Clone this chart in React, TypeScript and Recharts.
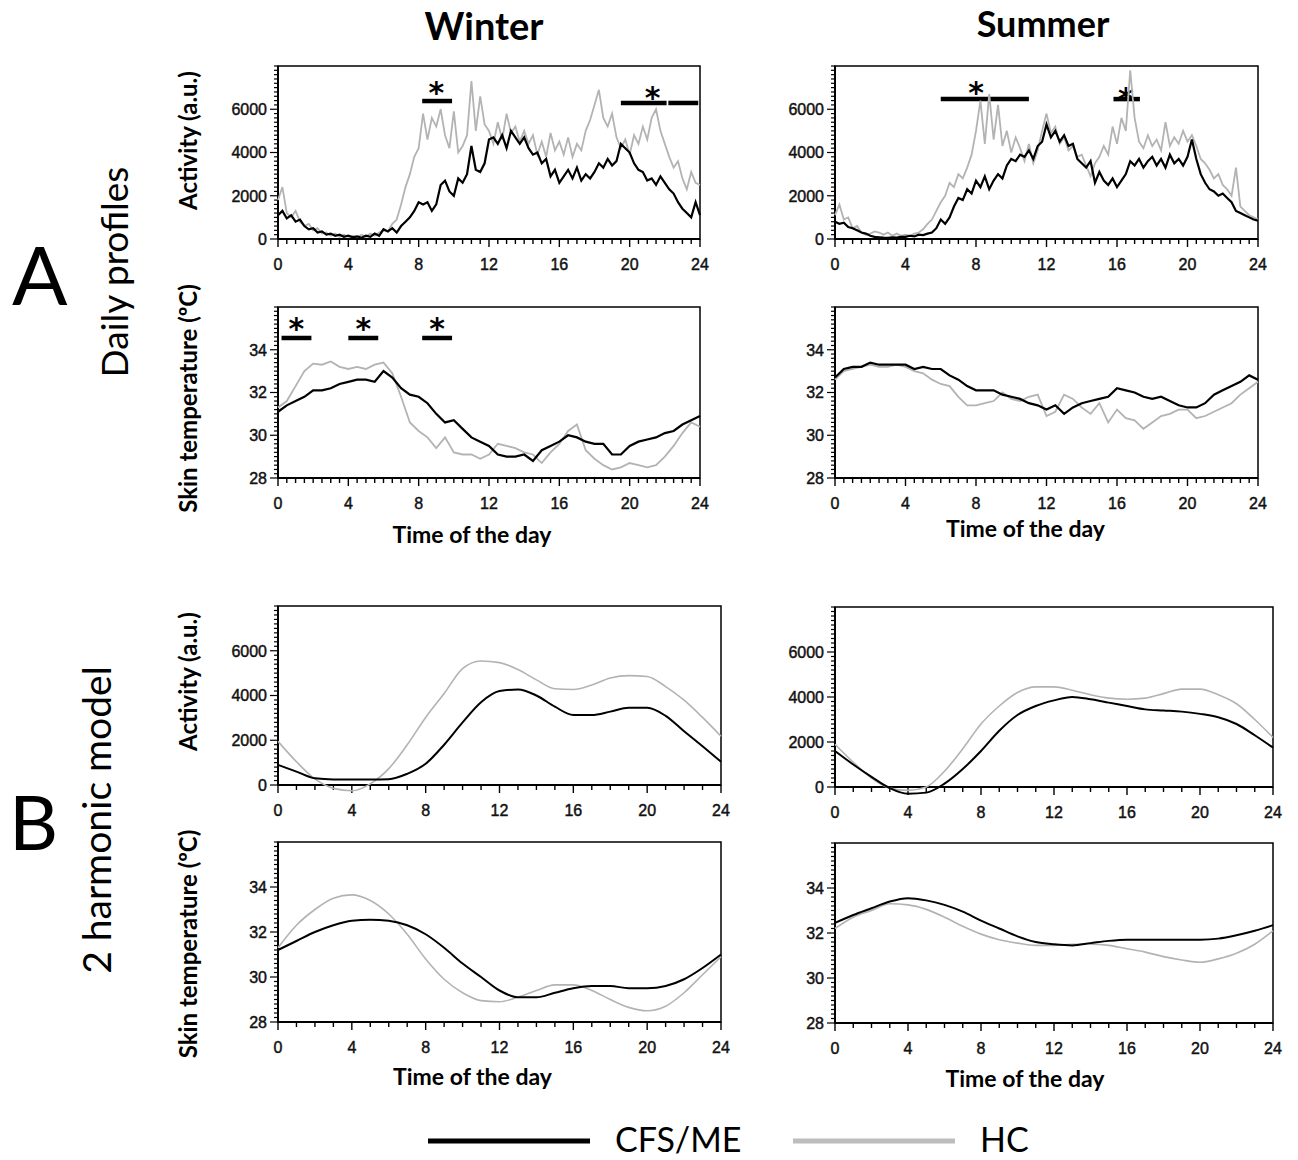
import React from 'react';
import { LineChart, Line, XAxis, YAxis, ReferenceArea, ReferenceLine, ReferenceDot } from 'recharts';

// time grids (hours)
const ACT_HOURS = [
  0, 0.25, 0.5, 0.75, 1, 1.25, 1.5, 1.75, 2, 2.25, 2.5, 2.75, 3, 3.25, 3.5, 3.75,
  4, 4.25, 4.5, 4.75, 5, 5.25, 5.5, 5.75, 6, 6.25, 6.5, 6.75, 7, 7.25, 7.5, 7.75,
  8, 8.25, 8.5, 8.75, 9, 9.25, 9.5, 9.75, 10, 10.25, 10.5, 10.75, 11, 11.25, 11.5, 11.75,
  12, 12.25, 12.5, 12.75, 13, 13.25, 13.5, 13.75, 14, 14.25, 14.5, 14.75, 15, 15.25, 15.5, 15.75,
  16, 16.25, 16.5, 16.75, 17, 17.25, 17.5, 17.75, 18, 18.25, 18.5, 18.75, 19, 19.25, 19.5, 19.75,
  20, 20.25, 20.5, 20.75, 21, 21.25, 21.5, 21.75, 22, 22.25, 22.5, 22.75, 23, 23.25, 23.5, 23.75, 24,
];
const TEMP_HOURS = [
  0, 0.5, 1, 1.5, 2, 2.5, 3, 3.5, 4, 4.5, 5, 5.5, 6, 6.5, 7, 7.5, 8, 8.5, 9, 9.5,
  10, 10.5, 11, 11.5, 12, 12.5, 13, 13.5, 14, 14.5, 15, 15.5, 16, 16.5, 17, 17.5, 18, 18.5, 19, 19.5,
  20, 20.5, 21, 21.5, 22, 22.5, 23, 23.5, 24,
];
const MODEL_HOURS = [0, 1, 2, 3, 4, 5, 6, 7, 8, 9, 10, 11, 12, 13, 14, 15, 16, 17, 18, 19, 20, 21, 22, 23, 24];

// A. daily profiles - activity (a.u.)
const WINTER_ACT_CFS = [
  1100, 1300, 950, 1100, 800, 900, 600, 450, 500, 300, 350, 200, 250, 150, 200, 100,
  150, 80, 120, 60, 150, 100, 250, 150, 450, 350, 500, 300, 600, 800, 1000, 1300,
  1700, 1600, 1700, 1300, 1600, 2500, 2700, 2200, 2000, 2800, 2600, 3000, 4300, 3200, 3100, 3500,
  4600, 4700, 4400, 4800, 4200, 5000, 4700, 4400, 4700, 4200, 3900, 4000, 3500, 3700, 2900, 3200,
  2600, 2900, 3200, 2800, 3300, 2700, 3000, 2800, 3100, 3500, 3300, 3700, 3400, 3600, 4400, 4200,
  4000, 3500, 3200, 3100, 2700, 2800, 2500, 2900, 2600, 2300, 2100, 1700, 1400, 1200, 1000, 1700, 1100,
];
const WINTER_ACT_HC = [
  1800, 2400, 1200, 1000, 1300, 800, 600, 700, 400, 500, 250, 300, 150, 250, 100, 200,
  100, 150, 80, 200, 100, 250, 150, 300, 400, 350, 700, 900, 1600, 2400, 3000, 3800,
  4200, 5800, 4600, 5600, 5200, 6000, 4800, 4200, 5900, 4000, 4300, 4800, 7300, 5000, 6600, 5300,
  5000, 4400, 5400, 4600, 5800, 4900, 5200, 4500, 5000, 4400, 4800, 3900, 4500, 3800, 4900, 4100,
  4500, 3900, 4700, 3800, 4400, 4100, 5000, 5500, 6200, 6900, 5600, 5200, 5800, 4700, 4200, 4600,
  3900, 4800, 4400, 5200, 4600, 5600, 6000, 5000, 4400, 3800, 3300, 3600, 2800, 2300, 3100, 2600, 2500,
];
const SUMMER_ACT_CFS = [
  800, 700, 750, 550, 500, 400, 300, 250, 150, 100, 80, 60, 50, 80, 60, 100,
  100, 150, 120, 200, 180, 250, 300, 500, 900, 700, 1000, 1500, 1900, 1800, 2300, 2100,
  2700, 2400, 2900, 2300, 2700, 3000, 2800, 3400, 3700, 3600, 3900, 3800, 4100, 3700, 4300, 4500,
  5300, 4700, 5000, 4500, 4800, 4300, 4400, 3700, 3500, 3300, 3600, 2600, 3100, 2700, 2500, 2800,
  2400, 2700, 3000, 3600, 3400, 3700, 3300, 3600, 3800, 3400, 3700, 3300, 3900, 3500, 3700, 3400,
  3800, 4600, 3700, 3000, 2600, 2300, 2200, 2000, 2100, 1900, 1700, 1300, 1200, 1100, 1000, 900, 850,
];
const SUMMER_ACT_HC = [
  1100, 1600, 900, 1000, 500, 600, 300, 200, 250, 350, 300, 200, 300, 150, 250, 150,
  200, 150, 250, 300, 450, 700, 900, 1300, 1700, 2000, 2600, 2400, 3000, 2800, 3300, 3900,
  5000, 6400, 4400, 6700, 4600, 6200, 4300, 5000, 4000, 4700, 4200, 3600, 4400, 3500, 4100, 5000,
  5800, 4900, 5200, 4400, 4700, 4100, 4300, 3800, 3900, 3400, 2900, 3500, 3800, 4300, 3900, 5200,
  4400, 5600, 5000, 7800, 5600, 4500, 4200, 4800, 4300, 4600, 4100, 5400, 4300, 4700, 4400, 5000,
  4500, 4800, 4300, 3700, 3500, 3200, 2800, 3000, 2500, 2300, 2000, 3300, 1500, 1300, 1100, 1000, 900,
];

// A. daily profiles - skin temperature (ºC)
const WINTER_TEMP_CFS = [
  31.1, 31.4, 31.6, 31.8, 32.1, 32.1, 32.2, 32.4, 32.5, 32.6,
  32.6, 32.5, 33.0, 32.7, 32.2, 31.9, 31.8, 31.5, 31.0, 30.6,
  30.7, 30.3, 29.9, 29.7, 29.5, 29.1, 29.0, 29.0, 29.1, 28.8,
  29.3, 29.5, 29.7, 30.0, 29.9, 29.7, 29.6, 29.6, 29.1, 29.1,
  29.5, 29.7, 29.8, 29.9, 30.1, 30.2, 30.5, 30.7, 30.9,
];
const WINTER_TEMP_HC = [
  31.3, 31.6, 32.3, 33.0, 33.35, 33.3, 33.45, 33.2, 33.1, 33.2,
  33.1, 33.3, 33.4, 32.9, 31.8, 30.6, 30.2, 29.9, 29.4, 29.9,
  29.2, 29.1, 29.1, 28.9, 29.1, 29.6, 29.5, 29.4, 29.2, 29.1,
  28.7, 29.2, 29.6, 30.2, 30.5, 29.3, 28.9, 28.6, 28.4, 28.5,
  28.7, 28.6, 28.5, 28.6, 29.0, 29.5, 30.1, 30.6, 30.4,
];
const SUMMER_TEMP_CFS = [
  32.7, 33.1, 33.2, 33.2, 33.4, 33.3, 33.3, 33.3, 33.3, 33.1,
  33.2, 33.1, 33.1, 32.8, 32.6, 32.3, 32.1, 32.1, 32.1, 31.9,
  31.8, 31.7, 31.5, 31.4, 31.2, 31.4, 31.0, 31.3, 31.5, 31.6,
  31.7, 31.8, 32.2, 32.1, 32.0, 31.8, 31.7, 31.8, 31.6, 31.4,
  31.3, 31.3, 31.5, 31.9, 32.1, 32.3, 32.5, 32.8, 32.6,
];
const SUMMER_TEMP_HC = [
  32.6, 33.0, 33.1, 33.2, 33.3, 33.2, 33.2, 33.3, 33.2, 33.0,
  32.9, 32.6, 32.4, 32.3, 31.8, 31.4, 31.4, 31.5, 31.6, 32.0,
  31.7, 31.6, 31.8, 31.9, 30.9, 31.1, 31.9, 31.7, 31.3, 31.0,
  31.5, 30.6, 31.2, 30.8, 30.7, 30.3, 30.6, 30.9, 31.0, 31.2,
  31.2, 30.8, 30.9, 31.1, 31.3, 31.5, 31.9, 32.2, 32.5,
];

// B. 2 harmonic model
const WINTER_MODEL_ACT_CFS = [900, 600, 300, 250, 250, 250, 260, 500, 950, 1800, 2800, 3700, 4200, 4270, 4000, 3500, 3130, 3130, 3280, 3450, 3450, 3090, 2400, 1730, 1040];
const WINTER_MODEL_ACT_HC = [1950, 1040, 270, -150, -260, 50, 730, 1800, 3020, 4090, 5200, 5540, 5470, 5160, 4700, 4300, 4270, 4470, 4780, 4890, 4850, 4400, 3790, 3020, 2180];
const SUMMER_MODEL_ACT_CFS = [1600, 1000, 450, -50, -300, -250, 150, 800, 1600, 2500, 3200, 3600, 3850, 4000, 3900, 3750, 3600, 3450, 3400, 3350, 3250, 3100, 2800, 2300, 1750];
const SUMMER_MODEL_ACT_HC = [1900, 1100, 400, -50, -150, 0, 700, 1700, 2800, 3600, 4200, 4450, 4450, 4300, 4100, 3950, 3900, 3950, 4150, 4350, 4350, 4100, 3700, 3000, 2200];
const WINTER_MODEL_TEMP_CFS = [31.2, 31.6, 32.0, 32.3, 32.5, 32.55, 32.5, 32.3, 31.9, 31.3, 30.6, 30.0, 29.4, 29.1, 29.1, 29.3, 29.5, 29.6, 29.6, 29.5, 29.5, 29.6, 29.9, 30.4, 31.0];
const WINTER_MODEL_TEMP_HC = [31.3, 32.3, 33.0, 33.5, 33.65, 33.4, 32.8, 31.9, 30.8, 29.9, 29.3, 28.95, 28.9, 29.1, 29.4, 29.65, 29.65, 29.4, 29.0, 28.65, 28.5, 28.7, 29.3, 30.1, 30.9];
const SUMMER_MODEL_TEMP_CFS = [32.45, 32.8, 33.1, 33.4, 33.55, 33.45, 33.25, 32.95, 32.55, 32.2, 31.85, 31.6, 31.5, 31.45, 31.55, 31.65, 31.7, 31.7, 31.7, 31.7, 31.7, 31.75, 31.9, 32.1, 32.35];
const SUMMER_MODEL_TEMP_HC = [32.2, 32.7, 33.0, 33.3, 33.25, 33.05, 32.7, 32.3, 31.95, 31.7, 31.55, 31.45, 31.45, 31.5, 31.5, 31.45, 31.3, 31.15, 30.95, 30.8, 30.7, 30.85, 31.1, 31.5, 32.1];

// tick labels
const HOUR_LABELS = [0, 4, 8, 12, 16, 20, 24];
const ACT_LABELS = [0, 2000, 4000, 6000];
const TEMP_LABELS = [28, 30, 32, 34];

// significance bars [from hour, to hour, level] and asterisks [hour, level]
const WINTER_ACT_BARS = [[8.2, 9.9, 6380], [19.5, 22.1, 6290], [22.2, 23.9, 6290]];
const WINTER_ACT_STARS = [[9.0, 7120], [21.3, 6900]];
const SUMMER_ACT_BARS = [[6.0, 11.0, 6470], [15.8, 17.3, 6470]];
const SUMMER_ACT_STARS = [[8.0, 7120], [16.5, 6840]];
const WINTER_TEMP_BARS = [[0.2, 1.9, 34.55], [4.0, 5.7, 34.55], [8.2, 9.9, 34.55]];
const WINTER_TEMP_STARS = [[1.05, 35.35], [4.85, 35.35], [9.05, 35.35]];

const steps = (from: number, to: number, step: number) => {
  const out: number[] = [];
  for (let i = 0; from + i * step <= to + 1e-9; i++) out.push(Math.round((from + i * step) * 100) / 100);
  return out;
};
const ACT_TICKS = steps(0, 8000, 200);
const TEMP_TICKS = steps(28, 36, 0.2);
const HALF_HOUR_TICKS = steps(0, 24, 0.5);
const HOUR_TICKS = steps(0, 24, 1);

const rows = (hours: number[], cfs: number[], hc: number[]) =>
  hours.map((t, i) => ({ t, cfs: cfs[i], hc: hc[i] }));

const TICK_FONT = '"Liberation Sans", Arial, sans-serif';
const TEXT_FONT = 'Lato, "Open Sans", sans-serif';
const GREY = '#b3b3b3';

const isIn = (list: number[], v: number) => list.some((m) => Math.abs(m - v) < 1e-6);

const makeXTick = (labels: number[]) => (props: any) => {
  const { x, y, payload } = props;
  const major = isIn(labels, payload.value);
  return (
    <g>
      <line x1={x} x2={x} y1={y} y2={y + (major ? 8 : 5)} stroke="#000" strokeWidth={1.4} />
      {major && (
        <text x={x} y={y + 25} dy="0.36em" textAnchor="middle" fontFamily={TICK_FONT} fontSize={16} fill="#111" stroke="#111" strokeWidth={0.45}>
          {payload.value}
        </text>
      )}
    </g>
  );
};

const makeYTick = (labels: number[]) => (props: any) => {
  const { x, y, payload } = props;
  const major = isIn(labels, payload.value);
  return (
    <g>
      <line x1={x} x2={x - (major ? 8 : 4)} y1={y} y2={y} stroke="#000" strokeWidth={1.2} />
      {major && (
        <text x={x - 11} y={y} dy="0.36em" textAnchor="end" fontFamily={TICK_FONT} fontSize={16} fill="#111" stroke="#111" strokeWidth={0.45}>
          {payload.value}
        </text>
      )}
    </g>
  );
};

const starLabel = ({ viewBox }: any) => {
  const cx = viewBox.x + viewBox.width / 2;
  const cy = viewBox.y + viewBox.height / 2;
  return (
    <text x={cx} y={cy} dy="0.6em" textAnchor="middle" fontFamily='"DejaVu Sans", sans-serif' fontWeight={700} fontSize={30} fill="#000">
      *
    </text>
  );
};

interface PanelProps {
  left: number;
  top: number;
  w: number;
  h: number;
  data: { t: number; cfs: number; hc: number }[];
  kind: 'act' | 'temp';
  model?: boolean;
  dip?: number; // extra room below the frame where the curves may run
  yTitle?: string;
  yTitleDy?: number;
  xTitleDx?: number;
  xTitleGap?: number;
  bars?: number[][];
  stars?: number[][];
}

const YW = 120;
const XH = 80;
const MT = 30;
const MR = 12;

function Panel({ left, top, w, h, data, kind, model, dip = 0, yTitle, yTitleDy = 0, xTitleDx, xTitleGap, bars = [], stars = [] }: PanelProps) {
  const yDomain = kind === 'act' ? [0, 8000] : [28, 36];
  const yTicks = kind === 'act' ? ACT_TICKS : TEMP_TICKS;
  const yLabels = kind === 'act' ? ACT_LABELS : TEMP_LABELS;
  const xTicks = model ? HOUR_TICKS : HALF_HOUR_TICKS;
  const lineLo = yDomain[0] - ((yDomain[1] - yDomain[0]) * dip) / h;

  const yLabel = yTitle
    ? {
        content: ({ viewBox }: any) => {
          const cx = viewBox.x + viewBox.width - 91;
          const cy = viewBox.y + viewBox.height / 2 + yTitleDy;
          return (
            <text x={cx} y={cy} transform={`rotate(-90, ${cx}, ${cy})`} textAnchor="middle" dominantBaseline="central" fontFamily={TEXT_FONT} fontWeight={700} fontSize={24} fill="#000">
              {yTitle}
            </text>
          );
        },
      }
    : undefined;

  const xLabel = xTitleGap
    ? {
        content: ({ viewBox }: any) => (
          <text x={viewBox.x + viewBox.width / 2 + (xTitleDx || 0)} y={viewBox.y + xTitleGap} textAnchor="middle" fontFamily={TEXT_FONT} fontWeight={700} fontSize={23} fill="#000">
            Time of the day
          </text>
        ),
      }
    : undefined;

  const width = YW + w + MR;
  const height = MT + h + XH;

  return (
    <div style={{ position: 'absolute', left: left - YW, top: top - MT, width, height }}>
      <div style={{ position: 'absolute', left: 0, top: 0 }}>
        <LineChart width={width} height={height} data={data} margin={{ top: MT, right: MR, left: 0, bottom: 0 }}>
          <XAxis
            dataKey="t"
            type="number"
            domain={[0, 24]}
            ticks={xTicks}
            interval={0}
            height={XH}
            tickSize={0}
            tickMargin={0}
            tickLine={false}
            axisLine={{ stroke: '#000', strokeWidth: 2 }}
            tick={makeXTick(HOUR_LABELS)}
            label={xLabel}
          />
          <YAxis
            type="number"
            domain={yDomain}
            allowDataOverflow
            ticks={yTicks}
            interval={0}
            width={YW}
            tickSize={0}
            tickMargin={0}
            tickLine={false}
            axisLine={{ stroke: '#000', strokeWidth: 2 }}
            tick={makeYTick(yLabels)}
            label={yLabel}
          />
          <ReferenceArea x1={0} x2={24} y1={yDomain[0]} y2={yDomain[1]} fill="none" stroke="#000" strokeWidth={1.5} />
          {bars.map(([a, b, v], i) => (
            <ReferenceLine key={`bar${i}`} segment={[{ x: a, y: v }, { x: b, y: v }]} stroke="#000" strokeWidth={4.5} />
          ))}
          {stars.map(([t, v], i) => (
            <ReferenceDot key={`star${i}`} x={t} y={v} r={1} fill="none" stroke="none" label={{ content: starLabel }} />
          ))}
        </LineChart>
      </div>
      <div style={{ position: 'absolute', left: 0, top: 0 }}>
        <LineChart width={width} height={height} data={data} margin={{ top: MT, right: MR, left: YW, bottom: XH - dip }}>
          <XAxis dataKey="t" type="number" domain={[0, 24]} hide />
          <YAxis type="number" domain={[lineLo, yDomain[1]]} allowDataOverflow hide />
          <Line
            dataKey="hc"
            type={model ? 'monotone' : 'linear'}
            stroke={GREY}
            strokeWidth={model ? 1.6 : 1.8}
            dot={false}
            isAnimationActive={false}
          />
          <Line
            dataKey="cfs"
            type={model ? 'monotone' : 'linear'}
            stroke="#000"
            strokeWidth={model ? 2 : 2.2}
            dot={false}
            isAnimationActive={false}
          />
        </LineChart>
      </div>
    </div>
  );
}

export default function App() {
  return (
    <div style={{ position: 'absolute', left: 0, top: 0, width: 1298, height: 1160, background: '#fff', overflow: 'hidden' }}>
      <svg width={1298} height={1160} style={{ position: 'absolute', left: 0, top: 0 }}>
        <text x={484} y={40} textAnchor="middle" fontFamily={TEXT_FONT} fontWeight={700} fontSize={38} fill="#000">Winter</text>
        <text x={1043} y={37} textAnchor="middle" fontFamily={TEXT_FONT} fontWeight={700} fontSize={36} fill="#000">Summer</text>
        <text x={12} y={305} fontFamily={TEXT_FONT} fontSize={82} fill="#000">A</text>
        <text x={9} y={850} fontFamily={TEXT_FONT} fontSize={76} fill="#000">B</text>
        <text x={113} y={272} transform="rotate(-90, 113, 272)" textAnchor="middle" dominantBaseline="central" fontFamily={TEXT_FONT} fontSize={37} fill="#000">Daily profiles</text>
        <text x={96} y={820} transform="rotate(-90, 96, 820)" textAnchor="middle" dominantBaseline="central" fontFamily={TEXT_FONT} fontSize={39} fill="#000">2 harmonic model</text>
        <line x1={428} x2={590} y1={1141} y2={1141} stroke="#000" strokeWidth={5} />
        <text x={615} y={1152} fontFamily={TEXT_FONT} fontSize={34} fill="#000">CFS/ME</text>
        <line x1={793} x2={955} y1={1141} y2={1141} stroke="#bdbdbd" strokeWidth={5} />
        <text x={980} y={1152} fontFamily={TEXT_FONT} fontSize={34} fill="#000">HC</text>
      </svg>

      <Panel left={278} top={66} w={422} h={173} kind="act" data={rows(ACT_HOURS, WINTER_ACT_CFS, WINTER_ACT_HC)} yTitle="Activity (a.u.)" yTitleDy={-12} bars={WINTER_ACT_BARS} stars={WINTER_ACT_STARS} />
      <Panel left={278} top={307} w={422} h={171} kind="temp" data={rows(TEMP_HOURS, WINTER_TEMP_CFS, WINTER_TEMP_HC)} yTitle="Skin temperature (ºC)" yTitleDy={6} xTitleDx={-17} xTitleGap={65} bars={WINTER_TEMP_BARS} stars={WINTER_TEMP_STARS} />
      <Panel left={835} top={66} w={423} h={173} kind="act" data={rows(ACT_HOURS, SUMMER_ACT_CFS, SUMMER_ACT_HC)} bars={SUMMER_ACT_BARS} stars={SUMMER_ACT_STARS} />
      <Panel left={835} top={307} w={423} h={171} kind="temp" data={rows(TEMP_HOURS, SUMMER_TEMP_CFS, SUMMER_TEMP_HC)} xTitleDx={-21} xTitleGap={59} />

      <Panel left={278} top={606} w={443} h={179} kind="act" model dip={12} data={rows(MODEL_HOURS, WINTER_MODEL_ACT_CFS, WINTER_MODEL_ACT_HC)} yTitle="Activity (a.u.)" yTitleDy={-14} />
      <Panel left={278} top={842} w={443} h={180} kind="temp" model data={rows(MODEL_HOURS, WINTER_MODEL_TEMP_CFS, WINTER_MODEL_TEMP_HC)} yTitle="Skin temperature (ºC)" yTitleDy={12} xTitleDx={-27} xTitleGap={63} />
      <Panel left={835} top={607} w={438} h={180} kind="act" model dip={12} data={rows(MODEL_HOURS, SUMMER_MODEL_ACT_CFS, SUMMER_MODEL_ACT_HC)} />
      <Panel left={835} top={843} w={438} h={180} kind="temp" model data={rows(MODEL_HOURS, SUMMER_MODEL_TEMP_CFS, SUMMER_MODEL_TEMP_HC)} xTitleDx={-29} xTitleGap={64} />
    </div>
  );
}
